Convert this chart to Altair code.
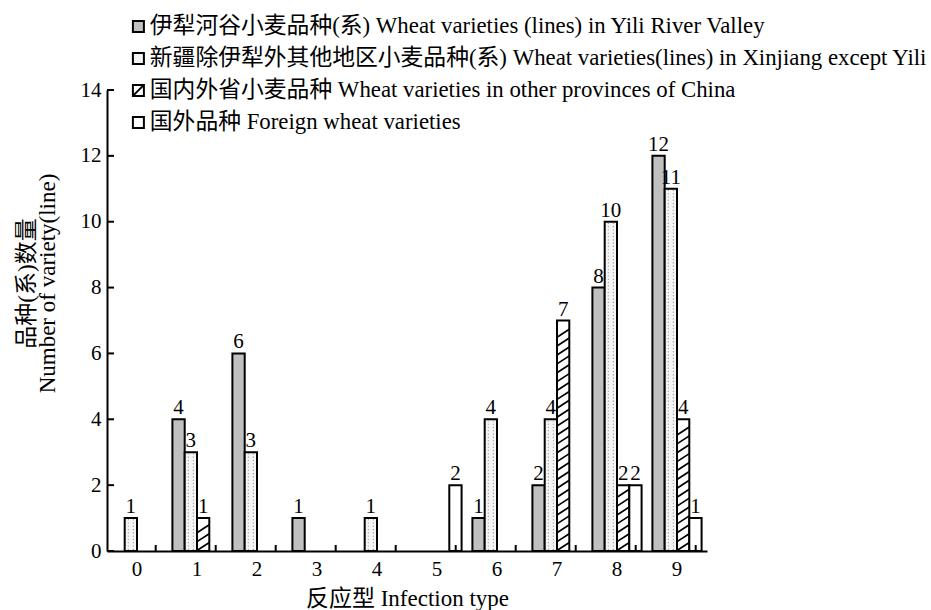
import altair as alt
import pandas as pd

# Infection types on the x axis
types = ["0", "1", "2", "3", "4", "5", "6", "7", "8", "9"]

# Number of varieties (lines) per infection type, one list per source group
yili = [0, 4, 6, 1, 0, 0, 1, 2, 8, 12]
xinjiang = [1, 3, 3, 0, 1, 0, 4, 4, 10, 11]
domestic = [0, 1, 0, 0, 0, 0, 0, 7, 2, 4]
foreign = [0, 0, 0, 0, 0, 2, 0, 0, 2, 1]

series_names = [
    "伊犁河谷小麦品种(系) Wheat varieties (lines) in Yili River Valley",
    "新疆除伊犁外其他地区小麦品种(系) Wheat varieties(lines) in Xinjiang except Yili",
    "国内外省小麦品种 Wheat varieties in other provinces of China",
    "国外品种 Foreign wheat varieties",
]
y_ticks = [0, 2, 4, 6, 8, 10, 12, 14]

FONT = "Liberation Serif, Noto Sans CJK SC"
W, H = 600, 461

HATCH_SQUARE = "M-1,-1H1V1H-1Z M-1,1L1,-1"
HATCH_LINE = "M-1,0.65L1,-0.65"
DOT_PAIR = "M-0.5,-0.09h0.18v0.18h-0.18Z M0.32,-0.09h0.18v0.18h-0.18Z"
HATCH_STEP = 0.27
DOT_STEP = 0.1

rows = []
for name, vals in zip(series_names, [yili, xinjiang, domestic, foreign]):
    for t, v in zip(types, vals):
        rows.append({"type": t, "series": name, "value": v})
df = pd.DataFrame(rows)

x_scale = alt.Scale(domain=types, paddingInner=0.18, paddingOuter=0.09)
y_scale = alt.Scale(domain=[0, 14], nice=False, zero=True)
off_scale = alt.Scale(domain=series_names, paddingInner=0, paddingOuter=0)
fill_scale = alt.Scale(domain=series_names,
                       range=["#c0c0c0", "#f5f5f5", "#ffffff", "#ffffff"])

x_axis = alt.Axis(
    title="反应型 Infection type", labelAngle=0, ticks=False,
    labelFontSize=21, labelPadding=7, titleFontSize=23, titlePadding=8,
)
y_axis = alt.Axis(
    values=y_ticks, ticks=False, labelFontSize=21, labelPadding=6,
    title=["品种(系)数量", "Number of variety(line)"],
    titleFontSize=23, titleLineHeight=21, titleAngle=270,
    titleAlign="center", titleBaseline="middle",
    titleX=-81, titleY=193,
)

# legend symbols: outlined squares, the domestic group gets a diagonal stroke
symbol_shape = (
    f"indexof(datum.value, '{series_names[2]}') >= 0 ? '{HATCH_SQUARE}' : 'square'"
)
leg = alt.Legend(
    orient="none", legendX=20, legendY=-75, title=None, padding=0,
    labelFont=FONT, labelFontSize=22.8, labelColor="black", labelLimit=900,
    labelOffset=0, symbolSize=121, symbolStrokeColor="black",
    symbolStrokeWidth=2, symbolOpacity=1, rowPadding=8,
    symbolType=alt.ExprRef(expr=symbol_shape),
)


def xenc(field="type"):
    return alt.X(f"{field}:N", sort=types, scale=x_scale, axis=x_axis)


def yenc(field):
    return alt.Y(f"{field}:Q", scale=y_scale, axis=y_axis)


xo_enc = alt.XOffset("series:N", sort=series_names, scale=off_scale)

base = alt.Chart(df).transform_filter("datum.value > 0")

# outlined bars; textures are drawn on top of them
bars = base.mark_bar(stroke="black", strokeWidth=2, opacity=1).encode(
    x=xenc(), xOffset=xo_enc, y=yenc("value"),
    fill=alt.Fill("series:N", scale=fill_scale, legend=leg),
)

# dot texture for the Xinjiang group
dots = (
    base.transform_filter(alt.datum.series == series_names[1])
    .transform_calculate(k=f"sequence({DOT_STEP / 2}, datum.value - 0.03, {DOT_STEP})")
    .transform_flatten(["k"])
    .mark_point(shape=DOT_PAIR, size=151, filled=True, fill="#9a9a9a",
                strokeWidth=0, opacity=1)
    .encode(x=xenc(), xOffset=xo_enc, y=yenc("k"))
)

# diagonal hatching for the domestic group
hatch = (
    base.transform_filter(alt.datum.series == series_names[2])
    .transform_calculate(k=f"sequence(0, datum.value - {HATCH_STEP} + 0.001, {HATCH_STEP})")
    .transform_flatten(["k"])
    .transform_calculate(yh=f"datum.k + {HATCH_STEP / 2}")
    .mark_point(shape=HATCH_LINE, size=151, filled=False, stroke="black",
                strokeWidth=1.7, opacity=1, strokeCap="butt")
    .encode(x=xenc(), xOffset=xo_enc, y=yenc("yh"))
)

labels = base.mark_text(font=FONT, fontSize=21, baseline="bottom", dy=-1,
                        color="black").encode(
    x=xenc(), xOffset=xo_enc, y=yenc("value"), text="value:Q",
)

# inward tick marks on both axes
y_tick_marks = alt.Chart(pd.DataFrame({"tick": y_ticks})).mark_rule(
    color="black", strokeWidth=2
).encode(y=yenc("tick"), x=alt.value(0), x2=alt.value(7))

x_tick_marks = alt.Chart(pd.DataFrame({"type": types})).mark_rule(
    color="black", strokeWidth=2
).encode(x=alt.X("type:N", sort=types, scale=x_scale, axis=x_axis,
                 bandPosition=0.88),
         y=alt.value(H), y2=alt.value(H - 6))

chart = (
    alt.layer(bars, dots, hatch, labels, y_tick_marks, x_tick_marks)
    .properties(
        width=W, height=H,
        autosize=alt.AutoSizeParams(type="none"),
        padding={"left": 107, "top": 90, "right": 224, "bottom": 59},
    )
    .configure_view(stroke=None)
    .configure_axis(
        domainColor="black", domainWidth=2, labelColor="black",
        titleColor="black", labelFont=FONT, titleFont=FONT, grid=False,
        titleFontWeight="normal",
    )
)

chart.save("out.html", embed_options={"renderer": "svg", "actions": False})
